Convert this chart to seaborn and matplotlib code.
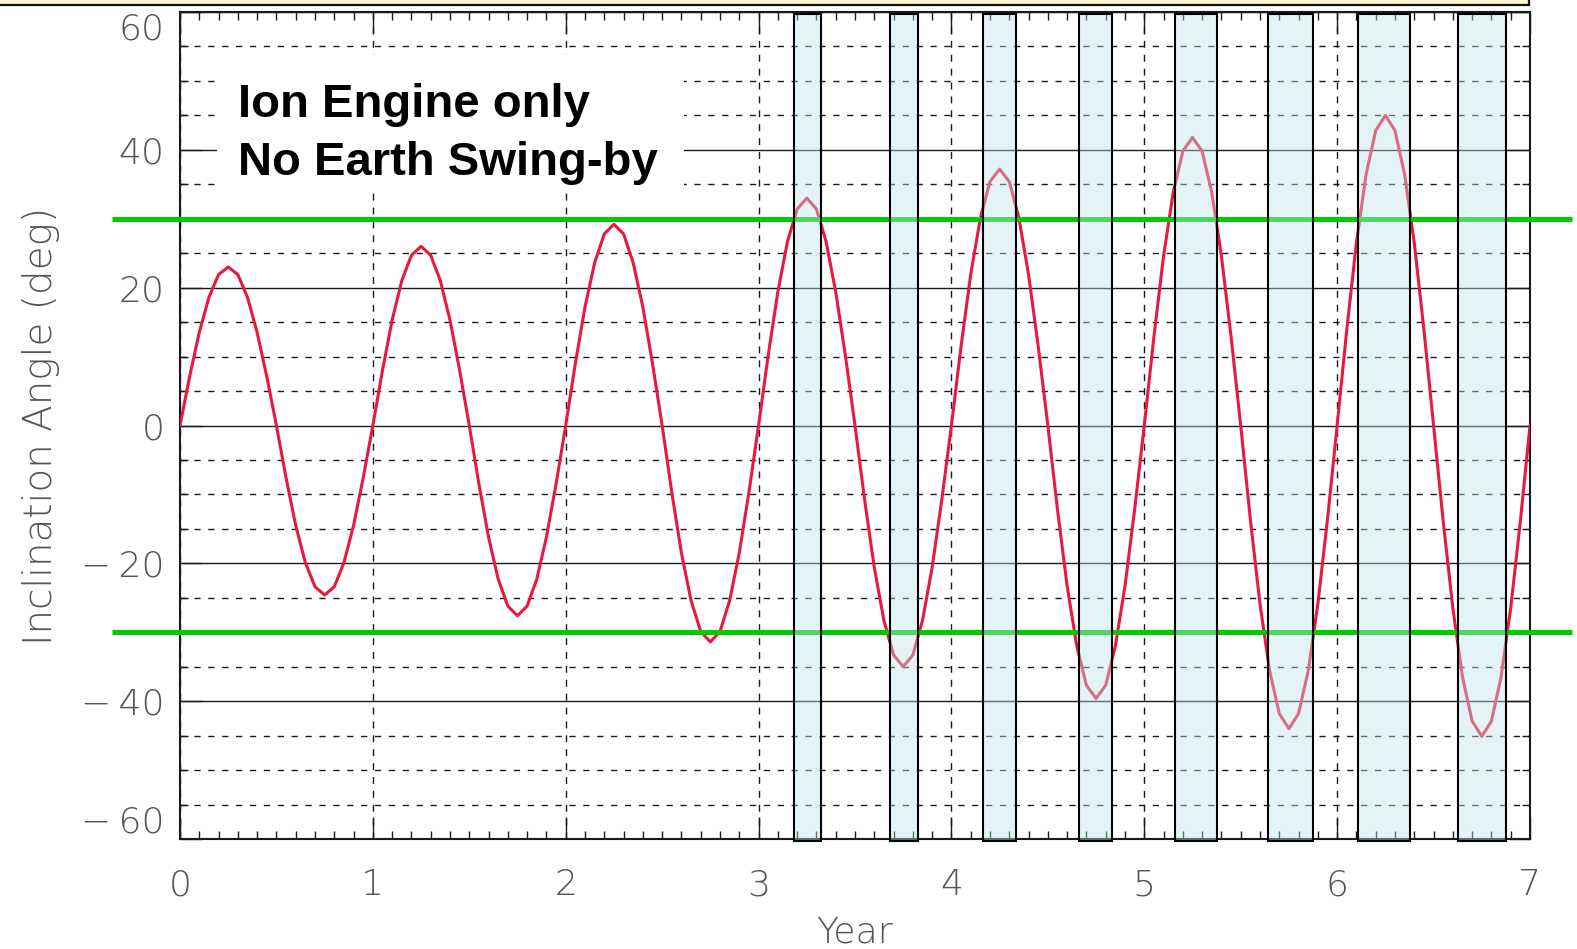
import numpy as np
import pandas as pd
import seaborn as sns
import matplotlib.pyplot as plt
import matplotlib.transforms as mtransforms
from matplotlib.patches import Rectangle
from matplotlib.ticker import MultipleLocator

# inclination angle (deg), one sample every 0.05 year
sample_step = 0.05
inclination = [
    0.0, 7.1, 13.5, 18.6, 21.9, 23.0, 21.9, 18.6, 13.5, 7.1,
    0.0, -7.6, -14.5, -19.9, -23.4, -24.6, -23.4, -19.9, -14.5, -7.6,
    0.0, 8.0, 15.3, 21.0, 24.7, 26.0, 24.7, 21.0, 15.3, 8.0,
    0.0, -8.5, -16.2, -22.3, -26.2, -27.6, -26.2, -22.3, -16.2, -8.5,
    0.0, 9.0, 17.2, 23.6, 27.8, 29.2, 27.8, 23.6, 17.2, 9.0,
    0.0, -9.7, -18.5, -25.4, -29.9, -31.4, -29.9, -25.4, -18.5, -9.7,
    0.0, 10.2, 19.4, 26.7, 31.4, 33.0, 31.4, 26.7, 19.4, 10.2,
    0.0, -10.8, -20.6, -28.3, -33.3, -35.0, -33.3, -28.3, -20.6, -10.8,
    0.0, 11.5, 21.9, 30.1, 35.4, 37.2, 35.4, 30.1, 21.9, 11.5,
    0.0, -12.2, -23.3, -32.0, -37.7, -39.6, -37.7, -32.0, -23.3, -12.2,
    0.0, 12.9, 24.6, 33.8, 39.8, 41.8, 39.8, 33.8, 24.6, 12.9,
    0.0, -13.6, -25.9, -35.6, -41.8, -44.0, -41.8, -35.6, -25.9, -13.6,
    0.0, 13.9, 26.5, 36.4, 42.8, 45.0, 42.8, 36.4, 26.5, 13.9,
    0.0, -13.9, -26.5, -36.5, -42.9, -45.1, -42.9, -36.5, -26.5, -13.9,
    0.0,
]
years = np.arange(len(inclination)) * sample_step

# shaded windows where |inclination| > 30 deg
band_start = [3.184, 3.681, 4.164, 4.661, 5.159, 5.641, 6.108, 6.627]
band_end = [3.324, 3.827, 4.335, 4.833, 5.377, 5.875, 6.378, 6.875]
limit_angles = [30, -30]

x_ticks = [0, 1, 2, 3, 4, 5, 6, 7]
y_ticks = [-60, -40, -20, 0, 20, 40, 60]
y_tick_labels = ["\u2212\u200960", "\u2212\u200940", "\u2212\u200920",
                 "0", "20", "40", "60"]
caption_lines = ["Ion Engine only", "No Earth Swing-by"]

df = pd.DataFrame({"Year": years, "Inclination": inclination})

sns.set_style("ticks")
plt.rcParams["font.family"] = ["DejaVu Sans"]
plt.rcParams["font.weight"] = 200

fig = plt.figure(figsize=(15.77, 9.49), dpi=100)
ax = fig.add_axes([0.11414, 0.11591, 0.85605, 0.87144])

sns.lineplot(data=df, x="Year", y="Inclination", ax=ax, color="#E8193E",
             lw=2.2, zorder=3)

ax.set_xlim(0, 7)
ax.set_ylim(-60, 60)
ax.set_xticks(x_ticks)
ax.set_yticks(y_ticks)
ax.set_yticklabels(y_tick_labels)
ax.xaxis.set_minor_locator(MultipleLocator(0.1))
ax.yaxis.set_minor_locator(MultipleLocator(5))

ax.set_axisbelow(True)
ax.grid(which="major", axis="y", color="#1a1a1a", lw=1.0, ls="-")
ax.grid(which="minor", axis="y", color="#1a1a1a", lw=1.0, ls=(0, (4.5, 5.5)))
ax.grid(which="major", axis="x", color="#1a1a1a", lw=1.0, ls=(0, (5, 5)))

ax.tick_params(which="both", direction="in", top=True, right=True,
               color="#1a1a1a", width=1.0)
ax.tick_params(which="major", length=16, labelsize=26, labelcolor="#555555")
ax.tick_params(which="minor", length=6)
ax.tick_params(axis="x", which="major", pad=21)
ax.tick_params(axis="y", which="major", pad=11)
for lbl in ax.get_xticklabels() + ax.get_yticklabels():
    lbl.set_fontweight(200)
# end labels sit inside the frame
ylabels = ax.get_yticklabels()
ylabels[0].set_va("bottom")
ylabels[-1].set_va("top")

for sp in ax.spines.values():
    sp.set_color("#1a1a1a")
    sp.set_linewidth(1.5)

ax.set_xlabel("Year", fontsize=26, color="#555555", fontweight=200)
ax.set_ylabel("Inclination Angle (deg)", fontsize=28, color="#555555",
              fontweight=200)
ax.xaxis.set_label_coords(0.5, -0.093)
ax.yaxis.set_label_coords(-0.089, 0.5)

# threshold lines, running past the frame
trans = mtransforms.blended_transform_factory(ax.transAxes, ax.transData)
for lim in limit_angles:
    ax.plot([-0.05, 1.031], [lim, lim], transform=trans, color="#00CC00",
            lw=3.6, clip_on=False, zorder=4, solid_capstyle="butt")

# translucent windows on top of everything
for s, e in zip(band_start, band_end):
    ax.axvspan(s, e, ymin=-0.003, ymax=0.998,
               facecolor=(0.753, 0.894, 0.91, 0.42),
               edgecolor="black", lw=1.5, zorder=5, clip_on=False)

# caption with white backing
ax.add_patch(Rectangle((0.0274, 34.2), 0.346, 19.6, transform=trans,
                       facecolor="white", edgecolor="none", zorder=2.6))
for line, y in zip(caption_lines, [44.8, 36.35]):
    ax.text(0.0432, y, line, transform=trans, fontsize=34,
            fontweight="bold", family="Liberation Sans", color="black",
            va="baseline", ha="left", zorder=6)

# bottom edge of the box above the chart
fig.patches.append(Rectangle((-0.01, 1 - 4.5 / 949), 1529 / 1577 + 0.01, 0.05,
                             transform=fig.transFigure, facecolor="#FFF6CF",
                             edgecolor="#111111", lw=1.6))

fig.savefig("out.png", dpi=100)
